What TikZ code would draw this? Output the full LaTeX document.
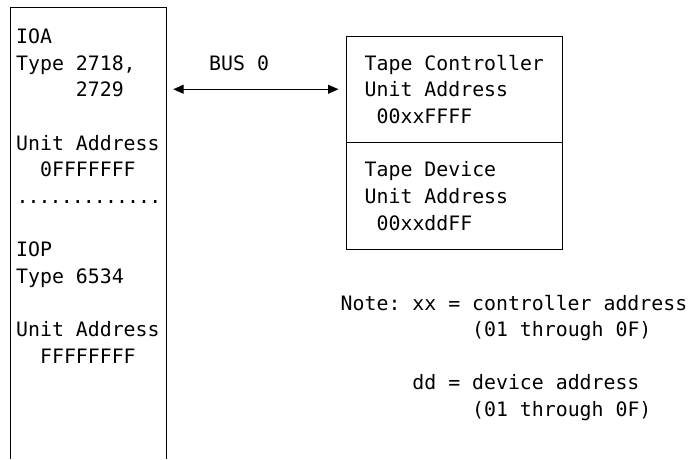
\documentclass[tikz,border=0pt]{standalone}
\usepackage{fontspec}
\newfontfamily\mono{DejaVu Sans Mono}
\usetikzlibrary{arrows.meta}
\newcommand\dt{\makebox[11.06pt]{.}}
\begin{document}
\begin{tikzpicture}[x=1pt,y=-1pt,
  txt/.style={font=\mono\fontsize{19.85}{24}\selectfont\frenchspacing, anchor=base west, inner sep=0pt},
  boxpart/.style={draw, line width=1pt, rectangle, inner sep=0pt, minimum width=216pt, minimum height=106.5pt},
  busarrow/.style={{Triangle[length=10.5pt,width=9pt]}-{Triangle[length=10.5pt,width=9pt]}, line width=1pt, shorten <=7pt, shorten >=7pt}]
\useasboundingbox (0,0) rectangle (688,459);
% left box (open at bottom)
\node[rectangle, inner sep=0pt, minimum width=155pt, minimum height=451pt] (ioa) at (88.5,233.5) {};
\draw[line width=1pt] (ioa.south west) -- (ioa.north west) -- (ioa.north east) -- (ioa.south east);
% right boxes
\node[boxpart] (ctrl) at (454,89.25) {};
\node[boxpart] (dev) at (454,195.75) {};
% bus arrow
\draw[busarrow] (ioa.east |- ctrl.west) -- (ctrl.west);
% left texts
\node[txt] (t1) at (16,43.5) {IOA};
\node[txt] (t2) at (16,70.15) {Type 2718,};
\node[txt] (t3) at (75.75,96.8) {2729};
\node[txt] (t4) at (16,150.1) {Unit Address};
\node[txt] (t5) at (39.9,176.75) {0FFFFFFF};
\node[txt] (t6) at (16.8,203.4) {\dt\dt\dt\dt\dt\dt\dt\dt\dt\dt\dt\dt\dt};
\node[txt] (t7) at (16,256.7) {IOP};
\node[txt] (t8) at (16,283.35) {Type 6534};
\node[txt] (t9) at (16,336.65) {Unit Address};
\node[txt] (t10) at (39.9,363.3) {FFFFFFFF};
% bus label
\node[txt] (bus) at (209,70.15) {BUS 0};
% right texts
\node[txt] (r1) at (364.5,70.15) {Tape Controller};
\node[txt] (r2) at (364.5,96.8) {Unit Address};
\node[txt] (r3) at (376.45,123.45) {00xxFFFF};
\node[txt] (r4) at (364.5,176.75) {Tape Device};
\node[txt] (r5) at (364.5,203.4) {Unit Address};
\node[txt] (r6) at (376.45,230.05) {00xxddFF};
% note
\node[txt] (n1) at (340.5,310) {Note: xx = controller address};
\node[txt] (n2) at (471.95,336.65) {(01 through 0F)};
\node[txt] (n3) at (412.2,389.95) {dd = device address};
\node[txt] (n4) at (471.95,416.6) {(01 through 0F)};
\end{tikzpicture}
\end{document}
